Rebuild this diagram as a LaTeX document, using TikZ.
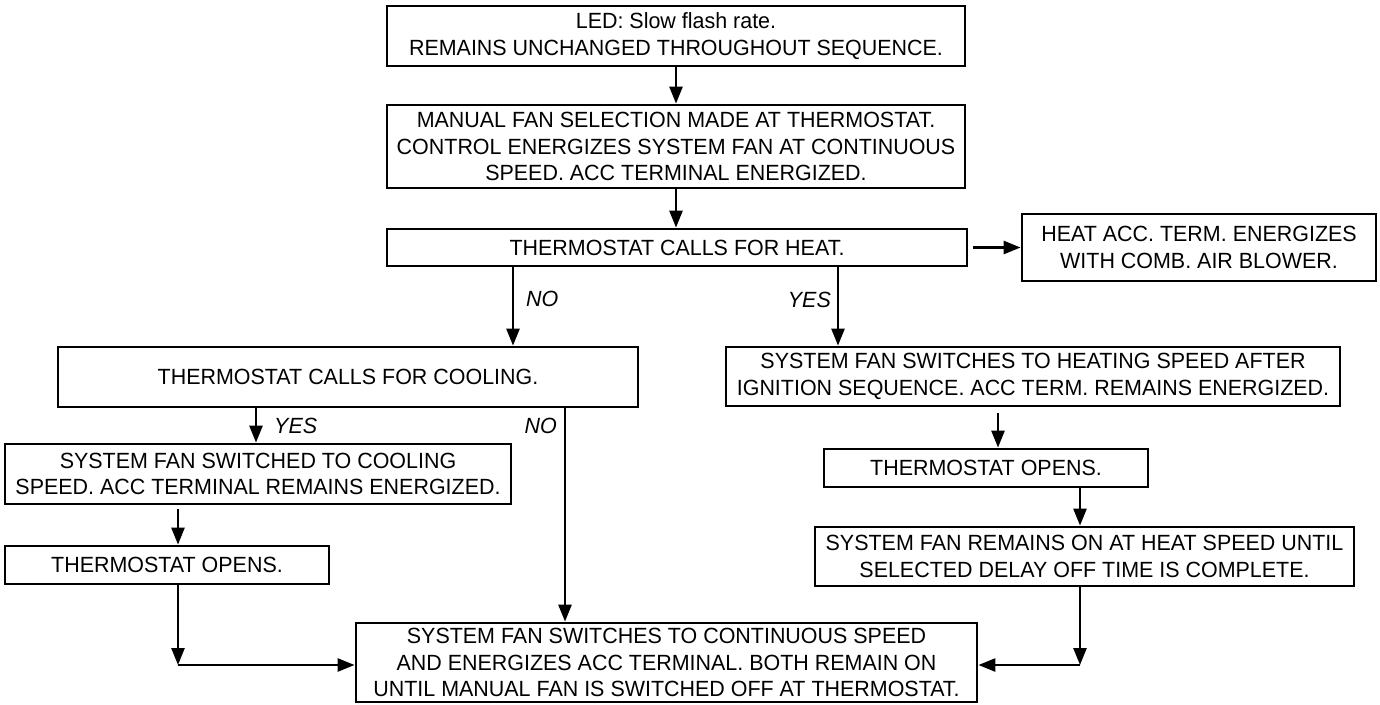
\documentclass[tikz,border=0pt]{standalone}
\usepackage{fontspec}
\setmainfont{Liberation Sans}[FakeStretch=0.975]
\usetikzlibrary{arrows.meta}
\begin{document}
\begin{tikzpicture}[x=1pt,y=-1pt,
  box/.style={draw, line width=2.8pt, inner sep=0pt, align=center,
    font=\fontsize{22}{26.7}\selectfont},
  conn/.style={line width=2.6pt, -{Triangle[length=17pt,width=13pt]}},
  lbl/.style={inner sep=0pt, font=\fontsize{22}{26}\selectfont\itshape}]
\useasboundingbox (0,0) rectangle (1380,704);

\node[box, minimum width=578pt, minimum height=60pt] (b1) at (676,36)
  {LED: Slow flash rate.\\REMAINS UNCHANGED THROUGHOUT SEQUENCE.};
\node[box, minimum width=578pt, minimum height=83pt] (b2) at (676,146.5)
  {MANUAL FAN SELECTION MADE AT THERMOSTAT.\\CONTROL ENERGIZES SYSTEM FAN AT CONTINUOUS\\SPEED. ACC TERMINAL ENERGIZED.};
\node[box, minimum width=580pt, minimum height=37pt] (b3) at (677,247.5)
  {THERMOSTAT CALLS FOR HEAT.};
\node[box, minimum width=354pt, minimum height=67pt] (b4) at (1199,247.5)
  {HEAT ACC. TERM. ENERGIZES\\WITH COMB. AIR BLOWER.};
\node[box, minimum width=580pt, minimum height=60pt] (b5) at (348,377)
  {THERMOSTAT CALLS FOR COOLING.};
\node[box, minimum width=614pt, minimum height=59pt] (b6) at (1033,376.5)
  {SYSTEM FAN SWITCHES TO HEATING SPEED AFTER\\IGNITION SEQUENCE. ACC TERM. REMAINS ENERGIZED.};
\node[box, minimum width=506pt, minimum height=60pt] (b7) at (258,474)
  {SYSTEM FAN SWITCHED TO COOLING\\SPEED. ACC TERMINAL REMAINS ENERGIZED.};
\node[box, minimum width=324pt, minimum height=38pt] (b8) at (167,565)
  {THERMOSTAT OPENS.};
\node[box, minimum width=324pt, minimum height=38pt] (b9) at (986,468)
  {THERMOSTAT OPENS.};
\node[box, minimum width=539pt, minimum height=59pt] (b10) at (1084.5,556.5)
  {SYSTEM FAN REMAINS ON AT HEAT SPEED UNTIL\\SELECTED DELAY OFF TIME IS COMPLETE.};
\node[box, minimum width=621pt, minimum height=79pt] (b11) at (666.5,662.5)
  {SYSTEM FAN SWITCHES TO CONTINUOUS SPEED\\AND ENERGIZES ACC TERMINAL. BOTH REMAIN ON\\UNTIL MANUAL FAN IS SWITCHED OFF AT THERMOSTAT.};

\coordinate (xNOa) at (513,0);
\coordinate (xYESa) at (838,0);
\coordinate (xYESb) at (256,0);
\coordinate (xNOb) at (565,0);
\coordinate (xL) at (178,0);
\coordinate (xR) at (998,0);
\coordinate (xRb) at (1080,0);
\coordinate (cL) at (178,665);
\coordinate (cR) at (1080,665);

\draw[conn] (b1.south) -- (b1.south |- b2.north);
\draw[conn] (b2.south) -- (b2.south |- b3.north);
\draw[conn, shorten <=5pt] (b3.east) -- (b4.west);
\draw[conn] (xNOa |- b3.south) -- (xNOa |- b5.north);
\node[lbl, anchor=west] (lNOa) at (526,299) {NO};
\draw[conn] (xYESa |- b3.south) -- (xYESa |- b6.north);
\node[lbl, anchor=east] (lYESa) at (831,300) {YES};
\draw[conn] (xYESb |- b5.south) -- (xYESb |- b7.north);
\node[lbl, anchor=west] (lYESb) at (274,426) {YES};
\draw[conn] (xNOb |- b5.south) -- (xNOb |- b11.north);
\node[lbl, anchor=east] (lNOb) at (557,426) {NO};
\draw[conn, shorten <=4pt] (xL |- b7.south) -- (xL |- b8.north);
\draw[conn] (xL |- b8.south) -- (cL);
\draw[conn] (cL) -- (cL -| b11.west);
\draw[conn, shorten <=6pt] (xR |- b6.south) -- (xR |- b9.north);
\draw[conn] (xRb |- b9.south) -- (xRb |- b10.north);
\draw[conn] (xRb |- b10.south) -- (cR);
\draw[conn] (cR) -- (cR -| b11.east);
\end{tikzpicture}
\end{document}
